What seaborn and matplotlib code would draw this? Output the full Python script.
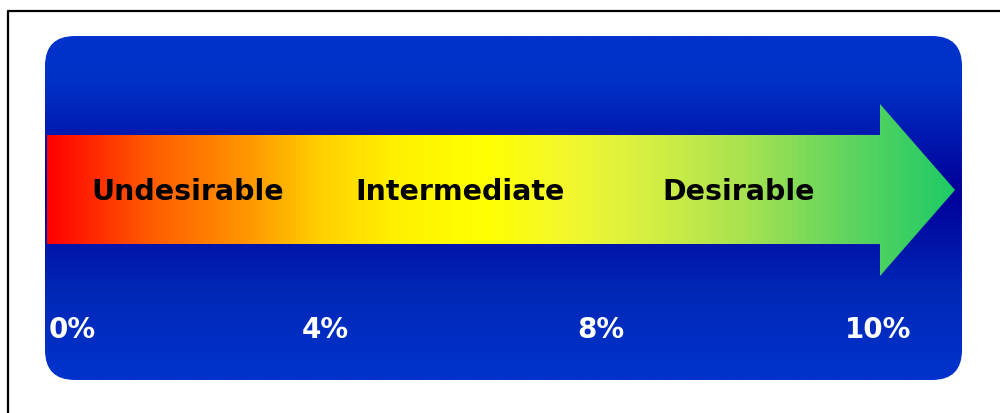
import numpy as np
import matplotlib
matplotlib.use("Agg")
import matplotlib.pyplot as plt
from matplotlib.colors import LinearSegmentedColormap
from matplotlib.patches import FancyBboxPatch, Polygon
import seaborn as sns

# Chart content
zone_labels = ["Undesirable", "Intermediate", "Desirable"]
tick_labels = ["0%", "4%", "8%", "10%"]

# Colour stops of the arrow (left -> right) and of the panel (top -> bottom)
arrow_stops = [0.0, 0.11, 0.22, 0.30, 0.38, 0.48, 0.57, 0.66, 0.77, 0.88, 1.0]
arrow_colors = ["#FF0000", "#FF5A00", "#FF9600", "#FFD000", "#FFF000", "#FFFF00",
                "#F4F82C", "#D6EF42", "#A8E250", "#62D55E", "#1ECB66"]
panel_stops = [0.0, 0.13, 0.45, 0.75, 1.0]
panel_colors = ["#0033CC", "#0031C6", "#000099", "#0028B8", "#0033CC"]

sns.set_theme(style="white")
plt.rcParams["font.family"] = ["DejaVu Sans"]

fig = plt.figure(figsize=(10, 4.14), dpi=100)
ax = fig.add_axes([0, 0, 1, 1])
ax.set_xlim(0, 1000)
ax.set_ylim(414, 0)
ax.axis("off")

# outer frame (only top and left edges are visible)
ax.plot([8, 8, 1000], [414, 12, 12], color="black", lw=1.6, solid_capstyle="butt")

# rounded blue panel with vertical gradient
px0, py0, px1, py1 = 45, 37, 962, 381
panel = FancyBboxPatch((px0, py0), px1 - px0, py1 - py0,
                       boxstyle="round,pad=0,rounding_size=30",
                       facecolor="none", edgecolor="none")
ax.add_patch(panel)
panel_cmap = LinearSegmentedColormap.from_list("panel", list(zip(panel_stops, panel_colors)))
grad_v = np.linspace(0, 1, 256).reshape(-1, 1)
img = ax.imshow(grad_v, cmap=panel_cmap, aspect="auto",
                extent=(px0, px1, py1, py0), interpolation="bilinear")
img.set_clip_path(panel)

# arrow with horizontal gradient
ax0, ax1, head_x = 47, 955, 880
body_top, body_bot, head_top, head_bot, mid_y = 136, 245, 105, 277, 191
arrow = Polygon([(ax0, body_top), (head_x, body_top), (head_x, head_top), (ax1, mid_y),
                 (head_x, head_bot), (head_x, body_bot), (ax0, body_bot)],
                closed=True, facecolor="none", edgecolor="none")
ax.add_patch(arrow)
arrow_cmap = LinearSegmentedColormap.from_list("arrow", list(zip(arrow_stops, arrow_colors)))
grad_h = np.linspace(0, 1, 512).reshape(1, -1)
img2 = ax.imshow(grad_h, cmap=arrow_cmap, aspect="auto",
                 extent=(ax0, ax1, head_bot, head_top), interpolation="bilinear")
img2.set_clip_path(arrow)

# zone labels
zone_x = [188, 460, 739]
for x, lab in zip(zone_x, zone_labels):
    ax.text(x, 189, lab, ha="center", va="center_baseline", fontsize=20.5,
            fontweight="bold", color="black")

# percent labels
tick_x = [72, 325, 601, 878]
for x, lab in zip(tick_x, tick_labels):
    t = ax.text(x, 327, lab, ha="center", va="center_baseline", fontsize=20,
                fontweight="bold", color="white")
    t.set_clip_path(panel)

fig.savefig("out.png", dpi=100)
